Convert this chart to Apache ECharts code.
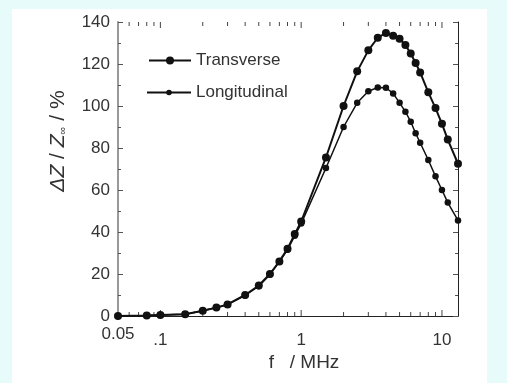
<!DOCTYPE html>
<html><head><meta charset="utf-8">
<script src="https://cdn.jsdelivr.net/npm/echarts@6/dist/echarts.min.js"></script>
<style>html,body{margin:0;padding:0;background:#e8fbfb;}#c{width:507px;height:383px;}</style>
</head><body><div id="c"></div>
<script>
const freq = [0.05,0.08,0.1,0.15,0.2,0.25,0.3,0.4,0.5,0.6,0.7,0.8,0.9,1.0,1.5,2,2.5,3,3.5,4,4.5,5,5.5,6,6.5,7,8,9,10,11,13];
const transverse = [0,0.2,0.5,0.8,2.5,4,5.5,10,14.5,20,26,32,39,45,75.5,100,116.5,126.5,132.5,134.8,133.5,132,129,125,120.5,116,106.5,99,91.5,84,72.5];
const longitudinal = [0,0.2,0.5,0.8,2.5,4,5.5,9.8,14.2,19.8,25.8,31.6,38.2,44,70.5,90,101.5,107,108.8,108.7,106,101.5,97.3,92.5,87,82.5,74.3,66.5,60,54,45.5];
const xMinorTicks = [0.06,0.07,0.08,0.09,0.2,0.3,0.4,0.5,0.6,0.7,0.8,0.9,2,3,4,5,6,7,8,9];
const xMajorTicks = [0.1,1,10];

const chart = echarts.init(document.getElementById('c'));
const FONT = 'Liberation Sans, Arial, sans-serif';
const pair = (xs, ys) => xs.map((x,i)=>[x, ys[i]]);
function xLabel(v){
  if (Math.abs(v-0.05)<1e-6) return '{a|0.05}';
  if (Math.abs(v-0.1)<1e-6) return '{b|.1}';
  if (Math.abs(v-1)<1e-6) return '{b|1}';
  if (Math.abs(v-10)<1e-6) return '{b|10}';
  return '';
}
const tickData = xMinorTicks.map(v=>[v,4]).concat(xMajorTicks.map(v=>[v,6]));
const legendText = {fontSize:17, fontFamily:FONT, color:'#333'};
chart.setOption({
  backgroundColor: '#e8fbfb',
  animation: false,
  graphic: [
    {type:'rect', z:-10, shape:{x:12,y:9,width:475,height:380}, style:{fill:'#ffffff'}},
    {type:'text', x:58, y:141, rotation:Math.PI/2, style:{
      text:'{i|ΔZ} / {i|Z}{s|∞} / %', align:'center', verticalAlign:'middle',
      font:'21px '+FONT, fill:'#333',
      rich:{i:{fontStyle:'italic', fontSize:21, fontFamily:FONT, fill:'#333'}, s:{fontSize:11, fontFamily:FONT, fill:'#333', padding:[10,0,0,0]}}
    }},
    {type:'text', x:304, y:363, style:{text:'f   / MHz', align:'center', verticalAlign:'middle', font:'19px '+FONT, fill:'#333'}}
  ],
  grid: {left:118, right:49, top:22, bottom:67},
  legend: [{
    data:['Transverse'], orient:'vertical', left:143, top:47,
    itemWidth:42, itemHeight:10, itemGap:0,
    textStyle:legendText
  },{
    data:['Longitudinal'], orient:'vertical', left:141, top:79,
    itemWidth:44, itemHeight:7, itemGap:0,
    textStyle:legendText
  }],
  xAxis: [{
    type:'log', logBase:10, min:0.05, max:13, position:'bottom',
    axisLine:{lineStyle:{color:'#222', width:1}},
    axisTick:{show:false},
    splitLine:{show:false},
    axisLabel:{formatter:xLabel, fontSize:17, fontFamily:FONT, color:'#333', margin:10,
      rich:{a:{fontSize:17, fontFamily:FONT, color:'#333'},
            b:{fontSize:17, fontFamily:FONT, color:'#333', padding:[6,0,0,0]}}}
  },{
    type:'log', logBase:10, min:0.05, max:13, position:'top',
    axisLine:{lineStyle:{color:'#222', width:1}},
    axisTick:{show:false}, axisLabel:{show:false}, splitLine:{show:false}
  }],
  yAxis: [{
    type:'value', min:0, max:140, interval:20, position:'left',
    axisLine:{show:true, lineStyle:{color:'#999', width:2}},
    axisTick:{show:true, inside:true, length:5, lineStyle:{color:'#555'}},
    minorTick:{show:true, splitNumber:2, length:3, lineStyle:{color:'#555'}},
    splitLine:{show:false},
    axisLabel:{fontSize:17, fontFamily:FONT, color:'#333', margin:8}
  },{
    type:'value', min:0, max:140, interval:20, position:'right',
    axisLine:{show:true, lineStyle:{color:'#222', width:1}},
    axisTick:{show:true, inside:true, length:5, lineStyle:{color:'#555'}},
    minorTick:{show:true, splitNumber:2, length:3, lineStyle:{color:'#555'}},
    splitLine:{show:false}, axisLabel:{show:false}
  }],
  series: [
    {name:'Transverse', type:'line', data:pair(freq, transverse), symbol:'circle', symbolSize:8,
     lineStyle:{color:'#111', width:2}, itemStyle:{color:'#111'}, z:3},
    {name:'Longitudinal', type:'line', data:pair(freq, longitudinal), symbol:'circle', symbolSize:6.5,
     lineStyle:{color:'#111', width:1.5}, itemStyle:{color:'#111'}, z:3},
    {name:'ticks', type:'custom', data:tickData, silent:true, clip:false, z:1,
     renderItem:function(params, api){
       const f = api.value(0), len = api.value(1);
       const b = api.coord([f, 0]), t = api.coord([f, 140]);
       const st = {stroke:'#444', lineWidth:1};
       return {type:'group', children:[
         {type:'line', shape:{x1:b[0],y1:b[1],x2:b[0],y2:b[1]-len}, style:st},
         {type:'line', shape:{x1:t[0],y1:t[1],x2:t[0],y2:t[1]+len}, style:st}
       ]};
     }}
  ]
});
</script></body></html>
